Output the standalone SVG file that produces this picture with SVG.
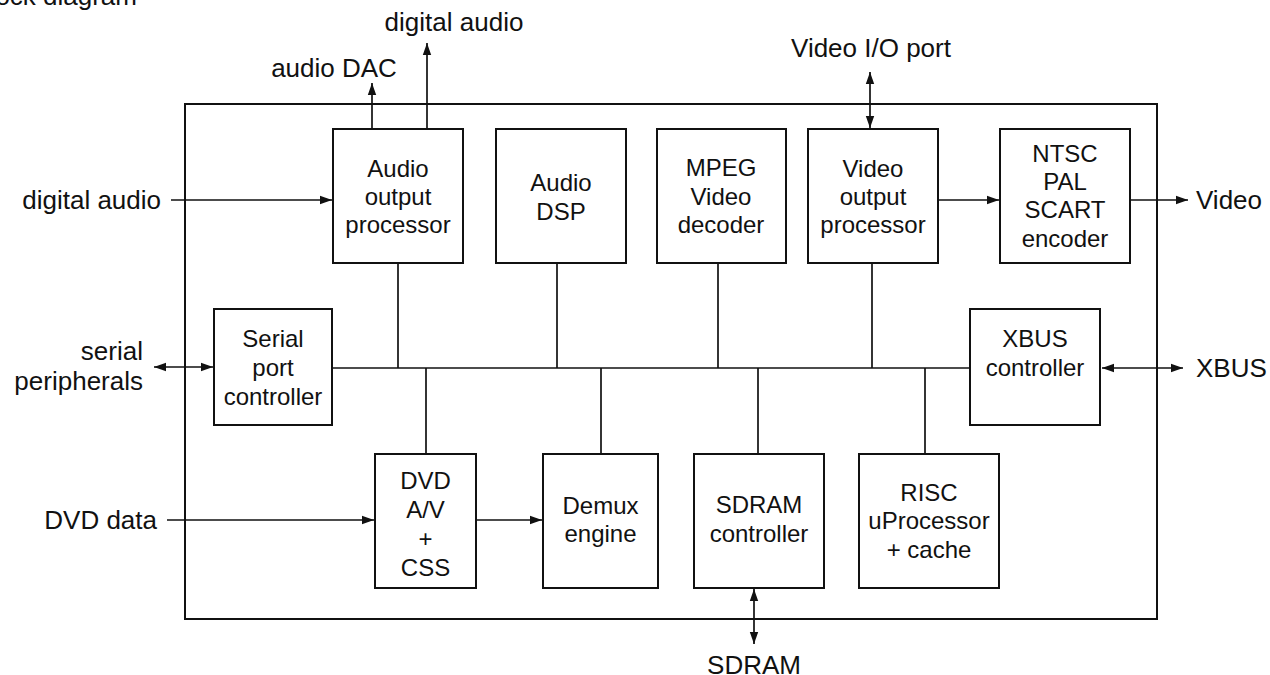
<svg xmlns="http://www.w3.org/2000/svg" width="1270" height="675" viewBox="0 0 1270 675">
<style>
  .box { fill: #fff; stroke: #111; stroke-width: 2; }
  .frame { fill: none; stroke: #111; stroke-width: 2; }
  .ln { fill: none; stroke: #111; stroke-width: 1.7; }
  .in { font-family: "Liberation Sans", Arial, sans-serif; font-size: 24px; fill: #111; text-anchor: middle; }
  .lbl { font-family: "Liberation Sans", Arial, sans-serif; font-size: 26px; fill: #111; }
</style>
<defs>
  <marker id="ah" markerUnits="userSpaceOnUse" markerWidth="14" markerHeight="10" refX="12" refY="5" orient="auto-start-reverse" viewBox="0 0 14 10">
    <path d="M0,0.8 L12,5 L0,9.2 Z" fill="#111"/>
  </marker>
</defs>
<rect width="1270" height="675" fill="#fff"/>

<text class="lbl" x="137" y="5" text-anchor="end">ock diagram</text>

<g id="chip">
  <rect class="frame" x="185" y="104" width="972" height="515"/>
</g>

<g id="connectors">
  <!-- bus -->
  <line class="ln" x1="332" y1="368" x2="970" y2="368"/>
  <line class="ln" x1="398" y1="263" x2="398" y2="368"/>
  <line class="ln" x1="557" y1="263" x2="557" y2="368"/>
  <line class="ln" x1="718" y1="263" x2="718" y2="368"/>
  <line class="ln" x1="872" y1="263" x2="872" y2="368"/>
  <line class="ln" x1="426" y1="368" x2="426" y2="454"/>
  <line class="ln" x1="601" y1="368" x2="601" y2="454"/>
  <line class="ln" x1="758" y1="368" x2="758" y2="454"/>
  <line class="ln" x1="925" y1="368" x2="925" y2="454"/>
  <!-- arrows -->
  <line class="ln" x1="372" y1="129" x2="372" y2="83" marker-end="url(#ah)"/>
  <line class="ln" x1="427" y1="129" x2="427" y2="43" marker-end="url(#ah)"/>
  <line class="ln" x1="171" y1="200" x2="332" y2="200" marker-end="url(#ah)"/>
  <line class="ln" x1="870" y1="72" x2="870" y2="128" marker-start="url(#ah)" marker-end="url(#ah)"/>
  <line class="ln" x1="938" y1="200" x2="999" y2="200" marker-end="url(#ah)"/>
  <line class="ln" x1="1130" y1="200" x2="1188" y2="200" marker-end="url(#ah)"/>
  <line class="ln" x1="154" y1="367" x2="213" y2="367" marker-start="url(#ah)" marker-end="url(#ah)"/>
  <line class="ln" x1="1102" y1="368" x2="1183" y2="368" marker-start="url(#ah)" marker-end="url(#ah)"/>
  <line class="ln" x1="167" y1="520" x2="374" y2="520" marker-end="url(#ah)"/>
  <line class="ln" x1="476" y1="520" x2="542" y2="520" marker-end="url(#ah)"/>
  <line class="ln" x1="754" y1="589" x2="754" y2="644" marker-start="url(#ah)" marker-end="url(#ah)"/>
</g>

<g id="labels">
  <text class="lbl" x="454" y="31" text-anchor="middle">digital audio</text>
  <text class="lbl" x="334" y="77" text-anchor="middle">audio DAC</text>
  <text class="lbl" x="871" y="57" text-anchor="middle">Video I/O port</text>
  <text class="lbl" x="161" y="209" text-anchor="end">digital audio</text>
  <text class="lbl" x="1196" y="209">Video</text>
  <text class="lbl" x="143" y="360" text-anchor="end">serial</text>
  <text class="lbl" x="143" y="390" text-anchor="end">peripherals</text>
  <text class="lbl" x="1196" y="377">XBUS</text>
  <text class="lbl" x="157" y="529" text-anchor="end">DVD data</text>
  <text class="lbl" x="754" y="674" text-anchor="middle">SDRAM</text>
</g>

<g id="audio-output-processor">
  <rect class="box" x="333" y="129" width="130" height="134"/>
  <text class="in" x="398" y="177">Audio</text>
  <text class="in" x="398" y="205">output</text>
  <text class="in" x="398" y="233">processor</text>
</g>
<g id="audio-dsp">
  <rect class="box" x="496" y="129" width="130" height="134"/>
  <text class="in" x="561" y="191">Audio</text>
  <text class="in" x="561" y="220">DSP</text>
</g>
<g id="mpeg-video-decoder">
  <rect class="box" x="657" y="129" width="129" height="134"/>
  <text class="in" x="721" y="176">MPEG</text>
  <text class="in" x="721" y="205">Video</text>
  <text class="in" x="721" y="233">decoder</text>
</g>
<g id="video-output-processor">
  <rect class="box" x="808" y="129" width="130" height="134"/>
  <text class="in" x="873" y="177">Video</text>
  <text class="in" x="873" y="205">output</text>
  <text class="in" x="873" y="233">processor</text>
</g>
<g id="ntsc-encoder">
  <rect class="box" x="1000" y="129" width="130" height="134"/>
  <text class="in" x="1065" y="162">NTSC</text>
  <text class="in" x="1065" y="190">PAL</text>
  <text class="in" x="1065" y="218">SCART</text>
  <text class="in" x="1065" y="247">encoder</text>
</g>
<g id="serial-port-controller">
  <rect class="box" x="214" y="309" width="118" height="116"/>
  <text class="in" x="273" y="347">Serial</text>
  <text class="in" x="273" y="376">port</text>
  <text class="in" x="273" y="405">controller</text>
</g>
<g id="xbus-controller">
  <rect class="box" x="970" y="309" width="130" height="116"/>
  <text class="in" x="1035" y="347">XBUS</text>
  <text class="in" x="1035" y="376">controller</text>
</g>
<g id="dvd-av-css">
  <rect class="box" x="375" y="454" width="101" height="134"/>
  <text class="in" x="425.5" y="489">DVD</text>
  <text class="in" x="425.5" y="518">A/V</text>
  <text class="in" x="425.5" y="547">+</text>
  <text class="in" x="425.5" y="576">CSS</text>
</g>
<g id="demux-engine">
  <rect class="box" x="543" y="454" width="115" height="134"/>
  <text class="in" x="600.5" y="514">Demux</text>
  <text class="in" x="600.5" y="542">engine</text>
</g>
<g id="sdram-controller">
  <rect class="box" x="694" y="454" width="130" height="134"/>
  <text class="in" x="759" y="513">SDRAM</text>
  <text class="in" x="759" y="542">controller</text>
</g>
<g id="risc-uprocessor">
  <rect class="box" x="859" y="454" width="140" height="134"/>
  <text class="in" x="929" y="501">RISC</text>
  <text class="in" x="929" y="529">uProcessor</text>
  <text class="in" x="929" y="558">+ cache</text>
</g>
</svg>
